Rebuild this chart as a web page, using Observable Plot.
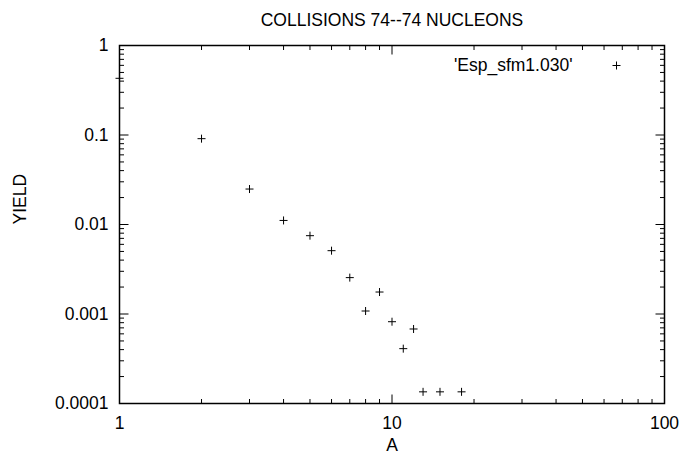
<!DOCTYPE html>
<html><head><meta charset="utf-8">
<script src="https://cdn.jsdelivr.net/npm/d3@7"></script>
<script src="https://cdn.jsdelivr.net/npm/@observablehq/plot@0.6"></script>
<style>body{margin:0;background:#fff}</style>
</head><body><div id="chart"></div>
<script>
// data
const massA = [1, 2, 3, 4, 5, 6, 7, 8, 9, 10, 11, 12, 13, 15, 18];
const yieldVals = [0.43, 0.091, 0.0249, 0.0111, 0.0075, 0.0051, 0.00255, 0.00108, 0.00176, 0.00082, 0.00041, 0.00068, 0.000135, 0.000135, 0.000135];
const seriesName = "'Esp_sfm1.030'";
const titleText = "COLLISIONS 74--74 NUCLEONS";
const xLabel = "A";
const yLabel = "YIELD";
const xDomain = [1, 100];
const yDomain = [0.0001, 1];
const xMajor = [1, 10, 100];
const xMajorLabels = ["1", "10", "100"];
const xMinor = [2, 3, 4, 5, 6, 7, 8, 9, 20, 30, 40, 50, 60, 70, 80, 90];
const yMajor = [0.0001, 0.001, 0.01, 0.1, 1];
const yMajorLabels = ["0.0001", "0.001", "0.01", "0.1", "1"];
const yMinor = [0.0002, 0.0003, 0.0004, 0.0005, 0.0006, 0.0007, 0.0008, 0.0009,
  0.002, 0.003, 0.004, 0.005, 0.006, 0.007, 0.008, 0.009,
  0.02, 0.03, 0.04, 0.05, 0.06, 0.07, 0.08, 0.09,
  0.2, 0.3, 0.4, 0.5, 0.6, 0.7, 0.8, 0.9];

const W = 681, H = 457, mt = 45, mb = 54, ml = 119, mr = 17;
const majorLen = 9, minorLen = 4.5;

const data = massA.map((a, i) => ({a, y: yieldVals[i]}));
const thinPlus = {
  draw(ctx, size) {
    const r = Math.sqrt(size / Math.PI);
    ctx.moveTo(-r, 0); ctx.lineTo(r, 0);
    ctx.moveTo(0, -r); ctx.lineTo(0, r);
  }
};
// one-sided tick symbols: length = r
function tickSymbol(dx, dy) {
  return {
    draw(ctx, size) {
      const r = Math.sqrt(size / Math.PI);
      ctx.moveTo(0, 0); ctx.lineTo(dx * r, dy * r);
    }
  };
}
const tickUp = tickSymbol(0, -1), tickDown = tickSymbol(0, 1);
const tickRight = tickSymbol(1, 0), tickLeft = tickSymbol(-1, 0);

function xTicks(vals, len) {
  return [
    Plot.dot(vals, {x: d => d, y: () => yDomain[0], symbol: tickUp, r: len, stroke: "black", fill: "none", strokeWidth: 1}),
    Plot.dot(vals, {x: d => d, y: () => yDomain[1], symbol: tickDown, r: len, stroke: "black", fill: "none", strokeWidth: 1})
  ];
}
function yTicks(vals, len) {
  return [
    Plot.dot(vals, {y: d => d, x: () => xDomain[0], symbol: tickRight, r: len, stroke: "black", fill: "none", strokeWidth: 1}),
    Plot.dot(vals, {y: d => d, x: () => xDomain[1], symbol: tickLeft, r: len, stroke: "black", fill: "none", strokeWidth: 1})
  ];
}

const chart = Plot.plot({
  width: W, height: H,
  marginTop: mt, marginBottom: mb, marginLeft: ml, marginRight: mr,
  style: {fontFamily: "'Liberation Sans', Arial, sans-serif", fontSize: "17.5px", background: "#fff", color: "#000"},
  x: {type: "log", domain: xDomain},
  y: {type: "log", domain: yDomain},
  r: {type: "identity"},
  marks: [
    Plot.frame({stroke: "black", fill: "none", strokeWidth: 1.5}),
    Plot.axisX({ticks: xMajor, tickFormat: d => xMajorLabels[xMajor.indexOf(d)], tickSize: 0, tickPadding: 13, label: null}),
    Plot.axisY({ticks: yMajor, tickFormat: d => yMajorLabels[yMajor.findIndex(v => Math.abs(v - d) < d * 1e-6)], tickSize: 0, tickPadding: 11, label: null}),
    ...xTicks(xMajor, majorLen),
    ...xTicks(xMinor, minorLen),
    ...yTicks(yMajor, majorLen),
    ...yTicks(yMinor, minorLen),
    Plot.dot(data, {x: "a", y: "y", symbol: thinPlus, r: 4, stroke: "black", fill: "none", strokeWidth: 1}),
    // legend
    Plot.text([seriesName], {text: d => d, frameAnchor: "top-right", lineAnchor: "middle", dx: -92, dy: 20, textAnchor: "end", fill: "black"}),
    Plot.dot([seriesName], {frameAnchor: "top-right", dx: -48, dy: 20, symbol: thinPlus, r: 4, stroke: "black", fill: "none", strokeWidth: 1}),
    // titles
    Plot.text([titleText], {text: d => d, frameAnchor: "top", lineAnchor: "middle", dy: -25, fill: "black"}),
    Plot.text([xLabel], {text: d => d, frameAnchor: "bottom", lineAnchor: "middle", dy: 42, fill: "black"}),
    Plot.text([yLabel], {text: d => d, frameAnchor: "left", lineAnchor: "middle", dx: -99, rotate: -90, fill: "black"})
  ]
});
document.getElementById("chart").appendChild(chart);
</script>
</body></html>
